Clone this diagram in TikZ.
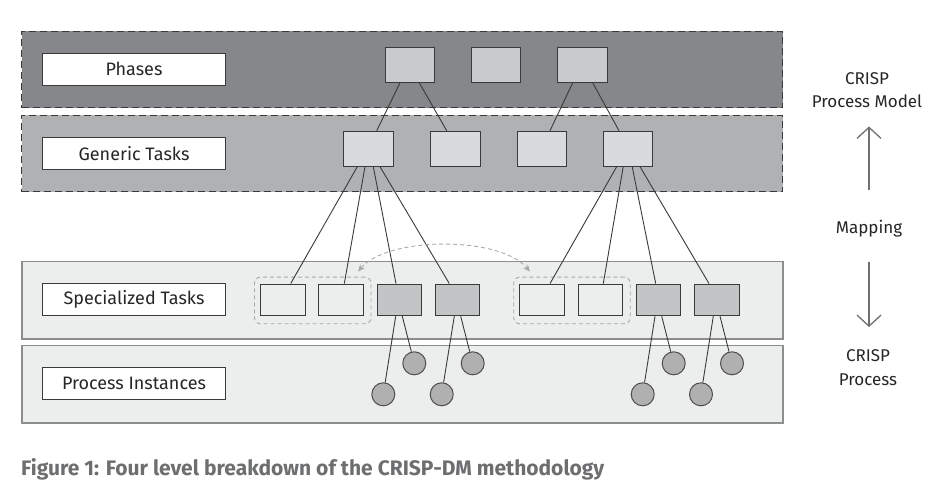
\documentclass[tikz,border=0pt]{standalone}
\usepackage{fontspec}
\setmainfont{Fira Sans}
\usetikzlibrary{arrows.meta}
\definecolor{bandA}{HTML}{86878A}
\definecolor{bandB}{HTML}{B0B1B3}
\definecolor{bandC}{HTML}{ECEDED}
\definecolor{boxA}{HTML}{C9CACC}
\definecolor{boxB}{HTML}{D9DADC}
\definecolor{boxD}{HTML}{C3C4C6}
\definecolor{circ}{HTML}{B0B0B0}
\definecolor{edgeC}{HTML}{3A3A3A}
\definecolor{bandLine}{HTML}{8C8D8F}
\definecolor{grpC}{HTML}{A8A9AB}
\definecolor{capC}{HTML}{6D6E70}
\definecolor{arrC}{HTML}{707070}
\tikzset{
  x=1pt, y=-1pt,
  dband/.style={draw=edgeC, line width=1.2pt, dash pattern=on 7pt off 4pt, anchor=north west, inner sep=0pt, minimum width=761pt},
  sband/.style={draw=bandLine, line width=1.6pt, fill=bandC, anchor=north west, inner sep=0pt, minimum width=761pt, minimum height=77.5pt},
  lbl/.style={draw=edgeC, line width=1pt, fill=white, minimum width=183pt, minimum height=32pt, inner sep=0pt, font=\fontsize{18}{20}\selectfont, text=black!85},
  pbox/.style={draw=edgeC, line width=1pt, minimum width=49.5pt, minimum height=35pt, inner sep=0pt},
  sbox/.style={draw=edgeC, line width=1pt, minimum width=44.5pt, minimum height=31.7pt, inner sep=0pt},
  grp/.style={draw=grpC, line width=0.9pt, dash pattern=on 4pt off 3pt, rounded corners=6pt, anchor=north west, minimum width=116.5pt, minimum height=46.6pt, inner sep=0pt},
  inst/.style={circle, draw=edgeC!90, line width=1pt, fill=circ, minimum size=23pt, inner sep=0pt},
  conn/.style={draw=edgeC, line width=0.9pt},
  side/.style={font=\fontsize{17}{23.7}\selectfont, text=black!85, align=center},
  bigarr/.style={draw=arrC, line width=1.3pt, -{Straight Barb[length=11pt, width=24pt, line width=1.3pt]}}
}
\begin{document}
\begin{tikzpicture}
\useasboundingbox (0,0) rectangle (950,501);
\fill[white] (0,0) rectangle (950,501);
% bands
\node[dband, fill=bandA, minimum height=76.5pt] (bph) at (21,30.5) {};
\node[dband, fill=bandB, minimum height=76.5pt] (bgt) at (21,114.5) {};
\node[sband] (bst) at (21,260.5) {};
\node[sband] (bpi) at (21,344.5) {};
% labels
\node[lbl] (lph) at (134,69.3) {Phases};
\node[lbl] (lgt) at (134,153.3) {Generic Tasks};
\node[lbl] (lst) at (134,299.7) {Specialized Tasks};
\node[lbl] (lpi) at (134,383.3) {Process Instances};
% phases
\node[pbox, fill=boxA] (p1) at (409.8,64.8) {};
\node[pbox, fill=boxA] (p2) at (496.2,64.8) {};
\node[pbox, fill=boxA] (p3) at (582.5,64.8) {};
% generic tasks
\node[pbox, fill=boxB] (g1) at (368.7,148.7) {};
\node[pbox, fill=boxB] (g2) at (455.5,148.7) {};
\node[pbox, fill=boxB] (g3) at (541.8,148.7) {};
\node[pbox, fill=boxB] (g4) at (628.2,148.7) {};
% groups
\node[grp] (gr1) at (254,276.7) {};
\node[grp] (gr2) at (513.3,276.7) {};
% specialized tasks
\node[sbox, fill=bandC] (s1) at (283,299.9) {};
\node[sbox, fill=bandC] (s2) at (341,299.9) {};
\node[sbox, fill=boxD] (s3) at (399.3,299.9) {};
\node[sbox, fill=boxD] (s4) at (457.7,299.9) {};
\node[sbox, fill=bandC] (s5) at (541.8,299.9) {};
\node[sbox, fill=bandC] (s6) at (600.3,299.9) {};
\node[sbox, fill=boxD] (s7) at (658.7,299.9) {};
\node[sbox, fill=boxD] (s8) at (717,299.9) {};
% instances
\node[inst] (c1) at (414.3,363.3) {};
\node[inst] (c2) at (383.3,394.3) {};
\node[inst] (c3) at (472.7,363.3) {};
\node[inst] (c4) at (441.7,394.3) {};
\node[inst] (c5) at (673.7,363.3) {};
\node[inst] (c6) at (642.7,394.3) {};
\node[inst] (c7) at (732,363.3) {};
\node[inst] (c8) at (701,394.3) {};
% phase -> generic
\draw[conn] ([xshift=-9.8pt]p1.south) -- ([xshift=8pt]g1.north);
\draw[conn] ([xshift=9.5pt]p1.south) -- ([xshift=-8.8pt]g2.north);
\draw[conn] ([xshift=-9.8pt]p3.south) -- ([xshift=8.2pt]g3.north);
\draw[conn] ([xshift=10.2pt]p3.south) -- ([xshift=-9.2pt]g4.north);
% generic -> specialized
\draw[conn] ([xshift=-11.4pt]g1.south) -- ([xshift=7.7pt]s1.north);
\draw[conn] ([xshift=-3.7pt]g1.south) -- ([xshift=3.3pt]s2.north);
\draw[conn] ([xshift=4.6pt]g1.south) -- ([xshift=-3.3pt]s3.north);
\draw[conn] ([xshift=11.3pt]g1.south) -- ([xshift=-8.4pt]s4.north);
\draw[conn] ([xshift=-11.5pt]g4.south) -- ([xshift=8.2pt]s5.north);
\draw[conn] ([xshift=-5pt]g4.south) -- ([xshift=3pt]s6.north);
\draw[conn] ([xshift=4pt]g4.south) -- ([xshift=-3pt]s7.north);
\draw[conn] ([xshift=11.8pt]g4.south) -- ([xshift=-8pt]s8.north);
% specialized -> instances
\draw[conn] ([xshift=-3.6pt]s3.south) -- (c2);
\draw[conn] ([xshift=3pt]s3.south) -- (c1);
\draw[conn] ([xshift=-3.4pt]s4.south) -- (c4);
\draw[conn] ([xshift=3pt]s4.south) -- (c3);
\draw[conn] ([xshift=-3.7pt]s7.south) -- (c6);
\draw[conn] ([xshift=3pt]s7.south) -- (c5);
\draw[conn] ([xshift=-3.7pt]s8.south) -- (c8);
\draw[conn] ([xshift=3pt]s8.south) -- (c7);
% mapping arrow between groups
\coordinate (m1) at (358,271.5);
\coordinate (m2) at (530,271.5);
\draw[draw=grpC, line width=0.9pt, dash pattern=on 4pt off 3pt, {Stealth[length=7pt,width=6pt]}-{Stealth[length=7pt,width=6pt]}] (m1) .. controls (388,236) and (500,236) .. (m2);
% right side
\node[side] (t1) at (867,90) {CRISP\\Process Model};
\node[side] (t2) at (869,229) {Mapping};
\node[side] (t3) at (868,367.5) {CRISP\\Process};
\coordinate (ua) at (869,190);
\coordinate (ub) at (869,126.5);
\coordinate (da) at (869,261.5);
\coordinate (db) at (869,327);
\draw[bigarr] (ua) -- (ub);
\draw[bigarr] (da) -- (db);
% caption
\node[anchor=base west, inner sep=0pt, text=capC, font=\bfseries\fontsize{21}{24}\selectfont] (cap) at (21,475.5) {Figure 1: Four level breakdown of the CRISP-DM methodology};
\end{tikzpicture}
\end{document}
